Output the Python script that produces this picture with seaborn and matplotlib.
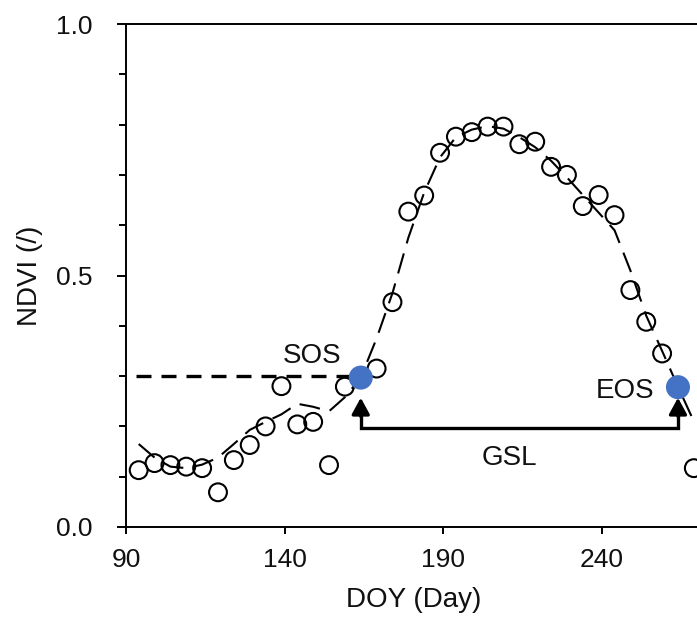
import numpy as np
import pandas as pd
import matplotlib
matplotlib.use("Agg")
import matplotlib.pyplot as plt
import seaborn as sns

# ── Data ──────────────────────────────────────────────────────────────────────
obs_doy = [94, 99, 104, 109, 114, 119, 124, 129, 134, 139, 144, 149, 154, 159,
           169, 174, 179, 184, 189, 194, 199, 204, 209, 214, 219, 224, 229, 234,
           239, 244, 249, 254, 259, 269]
obs_ndvi = [0.113, 0.127, 0.123, 0.120, 0.117, 0.069, 0.133, 0.163, 0.200, 0.280,
            0.204, 0.209, 0.123, 0.279, 0.315, 0.447, 0.627, 0.659, 0.744, 0.776,
            0.785, 0.796, 0.796, 0.761, 0.766, 0.716, 0.700, 0.638, 0.660, 0.620,
            0.471, 0.408, 0.345, 0.117]

fit_doy = [94, 99, 104, 109, 114, 119, 124, 129, 134, 139, 144, 149, 154, 159,
           164, 169, 174, 179, 184, 189, 194, 199, 204, 209, 214, 219, 224, 229,
           234, 239, 244, 249, 254, 259, 264, 269]
fit_ndvi = [0.165, 0.138, 0.120, 0.117, 0.124, 0.138, 0.165, 0.193, 0.209, 0.224,
            0.245, 0.239, 0.230, 0.258, 0.297, 0.375, 0.465, 0.575, 0.665, 0.735,
            0.775, 0.790, 0.797, 0.792, 0.775, 0.755, 0.728, 0.695, 0.660, 0.625,
            0.590, 0.510, 0.420, 0.350, 0.279, 0.210]

pheno_label = ["SOS", "EOS"]
pheno_doy = [164, 264]
pheno_ndvi = [0.297, 0.278]

threshold = 0.3
gsl_level = 0.196

x_ticks = [90, 140, 190, 240]
y_ticks = [0.0, 0.5, 1.0]

# ── Style ─────────────────────────────────────────────────────────────────────
sns.set_style("ticks")
plt.rcParams["font.family"] = ["Liberation Sans", "DejaVu Sans"]
plt.rcParams["axes.linewidth"] = 1.4
plt.rcParams["axes.edgecolor"] = "black"
plt.rcParams["text.color"] = "#111111"
plt.rcParams["axes.labelcolor"] = "#111111"

fig = plt.figure(figsize=(6.97, 6.19), dpi=100)
ax = fig.add_axes([126 / 697, 92 / 619, 571 / 697, 503 / 619])

obs = pd.DataFrame({"doy": obs_doy, "ndvi": obs_ndvi})
fit = pd.DataFrame({"doy": fit_doy, "ndvi": fit_ndvi})
pheno = pd.DataFrame({"label": pheno_label, "doy": pheno_doy, "ndvi": pheno_ndvi})

# fitted curve
sns.lineplot(data=fit, x="doy", y="ndvi", color="black", lw=1.5,
             linestyle=(0, (10, 5)), ax=ax, zorder=2)

# observations
sns.scatterplot(data=obs, x="doy", y="ndvi", s=165, marker="o",
                facecolor="none", edgecolor="black", linewidth=1.5,
                ax=ax, zorder=3)

# threshold line to SOS
ax.plot([93.2, pheno_doy[0]], [threshold, threshold], color="black", lw=2.4,
        linestyle=(0, (4.5, 3)), zorder=2)

# SOS / EOS points
sns.scatterplot(data=pheno, x="doy", y="ndvi", s=300, color="#4472C4",
                edgecolor="none", ax=ax, zorder=4)

# GSL bracket
ax.plot([pheno_doy[0], pheno_doy[0], pheno_doy[1], pheno_doy[1]],
        [0.24, gsl_level, gsl_level, 0.24], color="black", lw=2.4,
        solid_joinstyle="miter", zorder=3)
for d in pheno_doy:
    ax.annotate("", xy=(d, 0.257), xytext=(d, 0.22),
                arrowprops=dict(arrowstyle="-|>,head_length=0.55,head_width=0.3",
                                color="black", lw=2.4, mutation_scale=18,
                                shrinkA=0, shrinkB=0), zorder=3)

ax.text(148.8, 0.326, "SOS", fontsize=20, ha="center", va="baseline")
ax.text(247.3, 0.2565, "EOS", fontsize=20, ha="center", va="baseline")
ax.text(210.9, 0.123, "GSL", fontsize=20, ha="center", va="baseline")

# ── Axes ──────────────────────────────────────────────────────────────────────
ax.set_xlim(90, 270)
ax.set_ylim(0, 1.0)
ax.set_xticks(x_ticks)
ax.set_yticks(y_ticks)
ax.set_yticklabels([f"{v:.1f}" for v in y_ticks])
ax.set_yticks(np.arange(0.1, 1.0, 0.1), minor=True)
ax.tick_params(axis="x", which="major", direction="out", length=5, width=1.4,
               labelsize=19, pad=10, colors="black", labelcolor="#111111")
ax.tick_params(axis="y", which="major", direction="out", length=6.5, width=1.4,
               labelsize=19, pad=17.5, colors="black", labelcolor="#111111")
ax.tick_params(axis="y", which="minor", direction="out", length=5, width=1.4,
               colors="black")

ax.set_xlabel("DOY (Day)", fontsize=20)
ax.set_ylabel("NDVI (/)", fontsize=20)
ax.xaxis.set_label_coords(0.503, -0.119)
ax.yaxis.set_label_coords(-0.145, 0.5)

ax.spines["right"].set_visible(False)
ax.spines["top"].set_visible(True)

fig.savefig("out.png", dpi=100)
